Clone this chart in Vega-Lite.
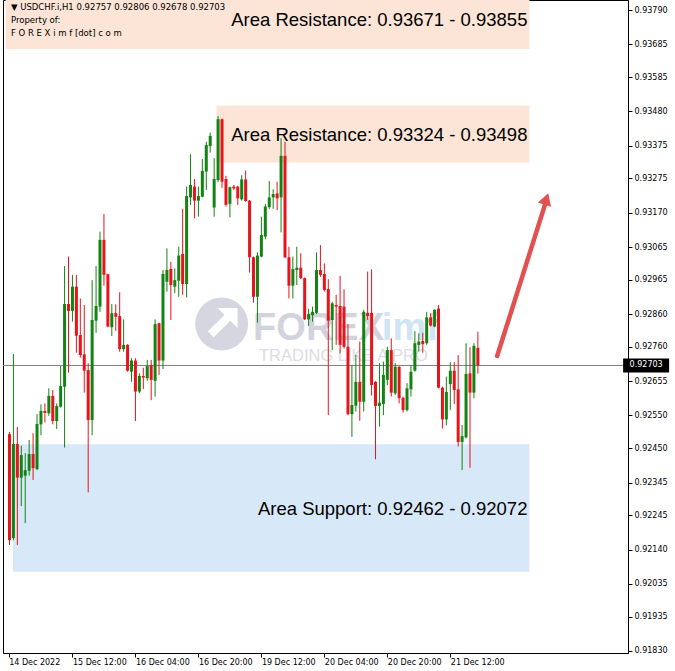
{
"$schema": "https://vega.github.io/schema/vega-lite/v6.json",
"width": 625, "height": 653,
"autosize": {"type": "none"},
"padding": {"left": 3, "top": 0, "right": 47, "bottom": 18},
"background": "white",
"config": {
"view": {"stroke": "#000", "strokeWidth": 1},
"axis": {"labelFont": "DejaVu Sans", "labelFontSize": 8, "labelColor": "#000", "tickColor": "#000", "domainColor": "#000", "tickSize": 4, "labelOverlap": false, "labelBound": false, "labelFlush": false, "grid": false, "title": null},
"axisX": {"labelAlign": "left", "labelBaseline": "top", "labelPadding": 1},
"axisY": {"labelPadding": 2, "labelAlign": "left", "labelBaseline": "middle"}
},
"resolve": {"axis": {"x": "independent", "y": "independent"}},
"data": {"values": [{"price": 0.92703}]},
"datasets": {
"zones": [
{"kind": "res", "lo": 0.93671, "hi": 0.93855, "start": -1, "end": 132.1, "label": "Area Resistance: 0.93671 - 0.93855"},
{"kind": "res", "lo": 0.93324, "hi": 0.93498, "start": 52.6, "end": 132.1, "label": "Area Resistance: 0.93324 - 0.93498"},
{"kind": "sup", "lo": 0.92072, "hi": 0.92462, "start": 0.9, "end": 132.1, "label": "Area Support: 0.92462 - 0.92072"}
],
"candles": [
{"i":0,"o":0.92493,"h":0.92500,"l":0.92154,"c":0.92169},
{"i":1,"o":0.92175,"h":0.92738,"l":0.92169,"c":0.92463},
{"i":2,"o":0.92463,"h":0.92515,"l":0.92154,"c":0.92360},
{"i":3,"o":0.92360,"h":0.92458,"l":0.92273,"c":0.92429},
{"i":4,"o":0.92366,"h":0.92435,"l":0.92221,"c":0.92383},
{"i":5,"o":0.92381,"h":0.92475,"l":0.92366,"c":0.92432},
{"i":6,"o":0.92432,"h":0.92496,"l":0.92353,"c":0.92389},
{"i":7,"o":0.92386,"h":0.92554,"l":0.92383,"c":0.92524},
{"i":8,"o":0.92523,"h":0.92584,"l":0.92490,"c":0.92564},
{"i":9,"o":0.92564,"h":0.92587,"l":0.92529,"c":0.92558},
{"i":10,"o":0.92557,"h":0.92633,"l":0.92549,"c":0.92610},
{"i":11,"o":0.92610,"h":0.92628,"l":0.92523,"c":0.92533},
{"i":12,"o":0.92533,"h":0.92587,"l":0.92509,"c":0.92579},
{"i":13,"o":0.92577,"h":0.92701,"l":0.92574,"c":0.92640},
{"i":14,"o":0.92638,"h":0.93007,"l":0.92452,"c":0.92891},
{"i":15,"o":0.92891,"h":0.93036,"l":0.92681,"c":0.92870},
{"i":16,"o":0.92870,"h":0.92980,"l":0.92837,"c":0.92944},
{"i":17,"o":0.92944,"h":0.92980,"l":0.92742,"c":0.92794},
{"i":18,"o":0.92796,"h":0.92908,"l":0.92727,"c":0.92735},
{"i":19,"o":0.92737,"h":0.92888,"l":0.92620,"c":0.92687},
{"i":20,"o":0.92689,"h":0.92710,"l":0.92315,"c":0.92536},
{"i":21,"o":0.92536,"h":0.92964,"l":0.92490,"c":0.92842},
{"i":22,"o":0.92840,"h":0.93007,"l":0.92803,"c":0.92885},
{"i":23,"o":0.92883,"h":0.93112,"l":0.92867,"c":0.93087},
{"i":24,"o":0.93087,"h":0.93166,"l":0.92947,"c":0.92980},
{"i":25,"o":0.92982,"h":0.92984,"l":0.92820,"c":0.92822},
{"i":26,"o":0.92820,"h":0.92891,"l":0.92793,"c":0.92863},
{"i":27,"o":0.92863,"h":0.92890,"l":0.92809,"c":0.92852},
{"i":28,"o":0.92854,"h":0.92927,"l":0.92745,"c":0.92753},
{"i":29,"o":0.92753,"h":0.92844,"l":0.92745,"c":0.92766},
{"i":30,"o":0.92766,"h":0.92768,"l":0.92684,"c":0.92687},
{"i":31,"o":0.92684,"h":0.92725,"l":0.92653,"c":0.92718},
{"i":32,"o":0.92718,"h":0.92725,"l":0.92533,"c":0.92623},
{"i":33,"o":0.92623,"h":0.92679,"l":0.92618,"c":0.92671},
{"i":34,"o":0.92671,"h":0.92696,"l":0.92631,"c":0.92666},
{"i":35,"o":0.92664,"h":0.92720,"l":0.92656,"c":0.92701},
{"i":36,"o":0.92704,"h":0.92720,"l":0.92597,"c":0.92659},
{"i":37,"o":0.92656,"h":0.92844,"l":0.92608,"c":0.92830},
{"i":38,"o":0.92832,"h":0.92834,"l":0.92674,"c":0.92718},
{"i":39,"o":0.92718,"h":0.92995,"l":0.92692,"c":0.92983},
{"i":40,"o":0.92959,"h":0.93061,"l":0.92929,"c":0.92995},
{"i":41,"o":0.92998,"h":0.93020,"l":0.92842,"c":0.92949},
{"i":42,"o":0.92944,"h":0.93000,"l":0.92924,"c":0.92964},
{"i":43,"o":0.92962,"h":0.93066,"l":0.92913,"c":0.93039},
{"i":44,"o":0.93044,"h":0.93182,"l":0.92919,"c":0.92952},
{"i":45,"o":0.92952,"h":0.93250,"l":0.92911,"c":0.93221},
{"i":46,"o":0.93217,"h":0.93349,"l":0.93194,"c":0.93255},
{"i":47,"o":0.93250,"h":0.93273,"l":0.93153,"c":0.93207},
{"i":48,"o":0.93207,"h":0.93250,"l":0.93158,"c":0.93221},
{"i":49,"o":0.93219,"h":0.93334,"l":0.93217,"c":0.93298},
{"i":50,"o":0.93296,"h":0.93387,"l":0.93240,"c":0.93377},
{"i":51,"o":0.93374,"h":0.93415,"l":0.93354,"c":0.93405},
{"i":52,"o":0.93186,"h":0.93337,"l":0.93158,"c":0.93273},
{"i":53,"o":0.93270,"h":0.93466,"l":0.93264,"c":0.93456},
{"i":54,"o":0.93456,"h":0.93458,"l":0.93246,"c":0.93265},
{"i":55,"o":0.93273,"h":0.93283,"l":0.93189,"c":0.93194},
{"i":56,"o":0.93197,"h":0.93250,"l":0.93156,"c":0.93248},
{"i":57,"o":0.93250,"h":0.93255,"l":0.93240,"c":0.93244},
{"i":58,"o":0.93250,"h":0.93252,"l":0.93194,"c":0.93214},
{"i":59,"o":0.93211,"h":0.93285,"l":0.93207,"c":0.93272},
{"i":60,"o":0.93272,"h":0.93299,"l":0.93204,"c":0.93206},
{"i":61,"o":0.93207,"h":0.93209,"l":0.92987,"c":0.93034},
{"i":62,"o":0.93034,"h":0.93036,"l":0.92895,"c":0.92913},
{"i":63,"o":0.92913,"h":0.93049,"l":0.92834,"c":0.93039},
{"i":64,"o":0.93036,"h":0.93158,"l":0.93034,"c":0.93102},
{"i":65,"o":0.93097,"h":0.93197,"l":0.93089,"c":0.93189},
{"i":66,"o":0.93187,"h":0.93267,"l":0.93182,"c":0.93217},
{"i":67,"o":0.93217,"h":0.93242,"l":0.93182,"c":0.93227},
{"i":68,"o":0.93229,"h":0.93265,"l":0.93178,"c":0.93214},
{"i":69,"o":0.93217,"h":0.93398,"l":0.93110,"c":0.93344},
{"i":70,"o":0.93344,"h":0.93387,"l":0.93031,"c":0.93034},
{"i":71,"o":0.93034,"h":0.93066,"l":0.92908,"c":0.92947},
{"i":72,"o":0.92947,"h":0.93036,"l":0.92908,"c":0.92998},
{"i":73,"o":0.92995,"h":0.93066,"l":0.92949,"c":0.93002},
{"i":74,"o":0.93002,"h":0.93046,"l":0.92967,"c":0.92970},
{"i":75,"o":0.92970,"h":0.92972,"l":0.92842,"c":0.92844},
{"i":76,"o":0.92844,"h":0.92876,"l":0.92824,"c":0.92860},
{"i":77,"o":0.92857,"h":0.92883,"l":0.92837,"c":0.92867},
{"i":78,"o":0.92864,"h":0.93049,"l":0.92860,"c":0.92995},
{"i":79,"o":0.92995,"h":0.93071,"l":0.92974,"c":0.92980},
{"i":80,"o":0.92983,"h":0.93015,"l":0.92929,"c":0.92934},
{"i":81,"o":0.92937,"h":0.92967,"l":0.92551,"c":0.92840},
{"i":82,"o":0.92842,"h":0.92898,"l":0.92750,"c":0.92893},
{"i":83,"o":0.92888,"h":0.92919,"l":0.92766,"c":0.92883},
{"i":84,"o":0.92885,"h":0.92977,"l":0.92740,"c":0.92766},
{"i":85,"o":0.92883,"h":0.92936,"l":0.92755,"c":0.92760},
{"i":86,"o":0.92760,"h":0.92829,"l":0.92551,"c":0.92554},
{"i":87,"o":0.92554,"h":0.92704,"l":0.92485,"c":0.92582},
{"i":88,"o":0.92580,"h":0.92735,"l":0.92562,"c":0.92653},
{"i":89,"o":0.92653,"h":0.92776,"l":0.92534,"c":0.92592},
{"i":90,"o":0.92592,"h":0.92873,"l":0.92562,"c":0.92867},
{"i":91,"o":0.92864,"h":0.92990,"l":0.92842,"c":0.92854},
{"i":92,"o":0.92864,"h":0.92997,"l":0.92611,"c":0.92643},
{"i":93,"o":0.92653,"h":0.92655,"l":0.92416,"c":0.92579},
{"i":94,"o":0.92579,"h":0.92710,"l":0.92516,"c":0.92589},
{"i":95,"o":0.92585,"h":0.92715,"l":0.92551,"c":0.92674},
{"i":96,"o":0.92659,"h":0.92760,"l":0.92643,"c":0.92750},
{"i":97,"o":0.92750,"h":0.92786,"l":0.92608,"c":0.92620},
{"i":98,"o":0.92618,"h":0.92710,"l":0.92613,"c":0.92699},
{"i":99,"o":0.92699,"h":0.92701,"l":0.92587,"c":0.92603},
{"i":100,"o":0.92604,"h":0.92608,"l":0.92559,"c":0.92567},
{"i":101,"o":0.92567,"h":0.92649,"l":0.92562,"c":0.92633},
{"i":102,"o":0.92630,"h":0.92704,"l":0.92608,"c":0.92684},
{"i":103,"o":0.92687,"h":0.92808,"l":0.92684,"c":0.92771},
{"i":104,"o":0.92766,"h":0.92801,"l":0.92745,"c":0.92776},
{"i":105,"o":0.92778,"h":0.92803,"l":0.92742,"c":0.92768},
{"i":106,"o":0.92771,"h":0.92867,"l":0.92766,"c":0.92850},
{"i":107,"o":0.92850,"h":0.92863,"l":0.92822,"c":0.92825},
{"i":108,"o":0.92822,"h":0.92875,"l":0.92820,"c":0.92873},
{"i":109,"o":0.92877,"h":0.92888,"l":0.92633,"c":0.92635},
{"i":110,"o":0.92635,"h":0.92638,"l":0.92510,"c":0.92538},
{"i":111,"o":0.92538,"h":0.92669,"l":0.92520,"c":0.92622},
{"i":112,"o":0.92646,"h":0.92713,"l":0.92567,"c":0.92687},
{"i":113,"o":0.92687,"h":0.92713,"l":0.92585,"c":0.92628},
{"i":114,"o":0.92630,"h":0.92735,"l":0.92455,"c":0.92469},
{"i":115,"o":0.92469,"h":0.92521,"l":0.92383,"c":0.92487},
{"i":116,"o":0.92483,"h":0.92771,"l":0.92480,"c":0.92677},
{"i":117,"o":0.92679,"h":0.92759,"l":0.92390,"c":0.92620},
{"i":118,"o":0.92620,"h":0.92771,"l":0.92603,"c":0.92763},
{"i":119,"o":0.92757,"h":0.92806,"l":0.92678,"c":0.92703}
]
},
"layer": [
{
"data": {"name": "zones"},
"mark": {"type": "rect", "clip": true},
"encoding": {
"x": {"field": "start", "type": "quantitative", "scale": {"domain": [-0.375, 155.875], "nice": false, "zero": false},
 "axis": {"title": null, "orient": "bottom", "values": [-0.2, 16, 32, 48, 64, 80, 96, 112], "labelExpr": "datum.value < 1 ? '14 Dec 2022' : datum.value == 16 ? '15 Dec 12:00' : datum.value == 32 ? '16 Dec 04:00' : datum.value == 48 ? '16 Dec 20:00' : datum.value == 64 ? '19 Dec 12:00' : datum.value == 80 ? '20 Dec 04:00' : datum.value == 96 ? '20 Dec 20:00' : '21 Dec 12:00'", "labelOverlap": false}},
"x2": {"field": "end"},
"y": {"field": "lo", "type": "quantitative", "scale": {"domain": [0.918237, 0.938206], "nice": false, "zero": false},
 "axis": {"title": null, "orient": "right", "values": [0.93790, 0.93685, 0.93585, 0.93480, 0.93375, 0.93275, 0.93170, 0.93065, 0.92965, 0.92860, 0.92760, 0.92655, 0.92550, 0.92450, 0.92345, 0.92245, 0.92140, 0.92035, 0.91935, 0.91830], "format": ".5f", "labelOverlap": false}},
"y2": {"field": "hi"},
"color": {"field": "kind", "type": "nominal", "scale": {"domain": ["res", "sup"], "range": ["#fce4d6", "#d7e8f8"]}, "legend": null}
}
},
{
"mark": {"type": "point", "filled": true, "shape": "circle", "size": 2800, "color": "#d6d6e0", "opacity": 1},
"encoding": {"x": {"datum": 53.9, "type": "quantitative", "axis": null}, "y": {"datum": 0.92830, "type": "quantitative", "axis": null}}
},
{
"mark": {"type": "point", "filled": true, "shape": "M0.6,-0.6 L0.6,0.15 L0.33,-0.12 L-0.3,0.5 L-0.52,0.28 L0.11,-0.34 L-0.15,-0.6 Z", "size": 2800, "color": "#ffffff", "opacity": 1},
"encoding": {"x": {"datum": 53.9, "type": "quantitative", "axis": null}, "y": {"datum": 0.92830, "type": "quantitative", "axis": null}}
},
{
"mark": {"type": "text", "text": "FOREX", "align": "left", "baseline": "alphabetic", "font": "Liberation Sans", "fontWeight": "bold", "fontSize": 38, "color": "#d3d3dd"},
"encoding": {"x": {"datum": 61.9, "type": "quantitative", "axis": null}, "y": {"datum": 0.92781, "type": "quantitative", "axis": null}}
},
{
"mark": {"type": "text", "text": "imf", "align": "left", "baseline": "alphabetic", "font": "Liberation Sans", "fontWeight": "bold", "fontSize": 38, "color": "#d0e4f4"},
"encoding": {"x": {"datum": 94.6, "type": "quantitative", "axis": null}, "y": {"datum": 0.92781, "type": "quantitative", "axis": null}}
},
{
"mark": {"type": "text", "text": "TRADING LIKE A PRO", "align": "left", "baseline": "alphabetic", "font": "Liberation Sans", "fontSize": 16.5, "color": "#dcdce4"},
"encoding": {"x": {"datum": 63.4, "type": "quantitative", "axis": null}, "y": {"datum": 0.92718, "type": "quantitative", "axis": null}}
},
{
"mark": {"type": "rule", "color": "#808080", "strokeWidth": 1},
"encoding": {"y": {"field": "price", "type": "quantitative", "axis": null}}
},
{
"data": {"name": "candles"},
"mark": {"type": "rule", "strokeWidth": 1},
"encoding": {
"x": {"field": "i", "type": "quantitative", "axis": null},
"y": {"field": "l", "type": "quantitative", "axis": null},
"y2": {"field": "h"},
"color": {"condition": {"test": "datum.c < datum.o", "value": "#e8141c"}, "value": "#138313"}
}
},
{
"data": {"name": "candles"},
"mark": {"type": "bar", "size": 3},
"encoding": {
"x": {"field": "i", "type": "quantitative", "axis": null},
"y": {"field": "o", "type": "quantitative", "axis": null},
"y2": {"field": "c"},
"color": {"condition": {"test": "datum.c < datum.o", "value": "#e8141c"}, "value": "#138313"}
}
},
{
"data": {"name": "zones"},
"transform": [{"calculate": "(datum.lo + datum.hi) / 2", "as": "mid"}],
"mark": {"type": "text", "align": "right", "baseline": "middle", "dx": -2, "dy": 1, "font": "Liberation Sans", "fontSize": 18.5, "color": "#000"},
"encoding": {
"x": {"field": "end", "type": "quantitative", "axis": null},
"y": {"field": "mid", "type": "quantitative", "axis": null},
"text": {"field": "label"}
}
},
{
"mark": {"type": "text", "align": "left", "baseline": "top", "font": "DejaVu Sans", "fontSize": 8.5, "lineHeight": 13, "color": "#000", "text": ["▼ USDCHF.i,H1  0.92757 0.92806 0.92678 0.92703", "Property of:", "F O R E X i m f [dot] c o m"]},
"encoding": {"x": {"datum": 0.375, "type": "quantitative", "axis": null}, "y": {"datum": 0.938115, "type": "quantitative", "axis": null}}
},
{
"mark": {"type": "rule", "color": "#e25050", "strokeWidth": 4.5, "strokeCap": "round"},
"encoding": {"x": {"datum": 123.9, "type": "quantitative", "axis": null}, "y": {"datum": 0.92732, "type": "quantitative", "axis": null}, "x2": {"datum": 136.2}, "y2": {"datum": 0.93200}}
},
{
"mark": {"type": "point", "filled": true, "shape": "triangle-up", "size": 190, "angle": 18, "color": "#e25050", "opacity": 1},
"encoding": {"x": {"datum": 136.4, "type": "quantitative", "axis": null}, "y": {"datum": 0.93212, "type": "quantitative", "axis": null}}
},
{
"mark": {"type": "point", "filled": true, "clip": false, "shape": "M-1.643,-0.5 H1.643 V0.5 H-1.643 Z", "size": 784, "color": "#000", "opacity": 1},
"encoding": {"x": {"datum": 161.75, "type": "quantitative", "axis": null}, "y": {"field": "price", "type": "quantitative", "axis": null}}
},
{
"mark": {"type": "text", "clip": false, "align": "center", "baseline": "middle", "font": "DejaVu Sans", "fontSize": 8, "color": "#fff", "text": "0.92703"},
"encoding": {"x": {"datum": 161.75, "type": "quantitative", "axis": null}, "y": {"field": "price", "type": "quantitative", "axis": null}}
}
]
}
